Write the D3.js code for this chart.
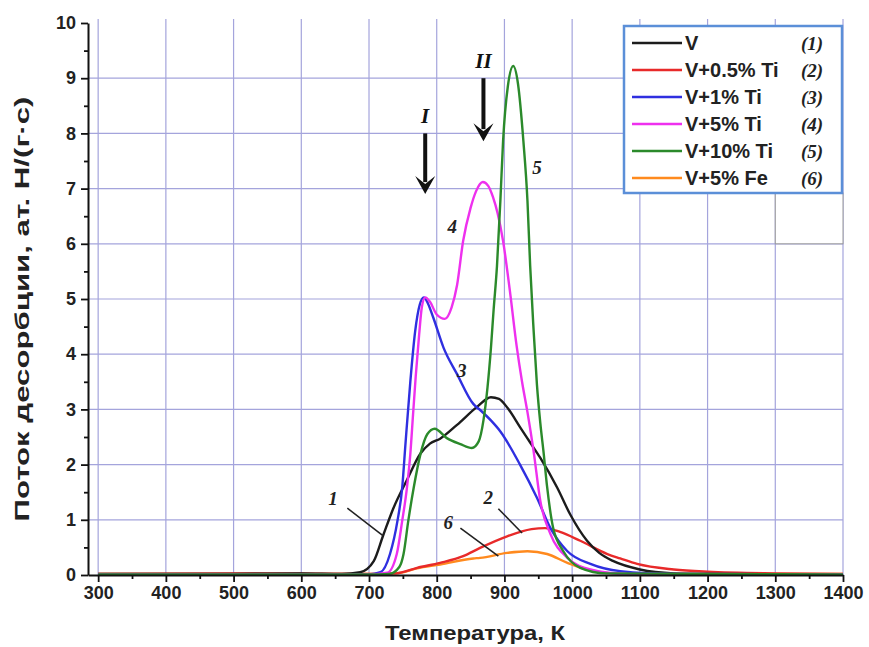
<!DOCTYPE html>
<html>
<head>
<meta charset="utf-8">
<script src="https://cdn.jsdelivr.net/npm/d3@7"></script>
<style>
  body { margin: 0; background: #fff; }
  text { font-family: "Liberation Sans", Arial, sans-serif; }
</style>
</head>
<body>
<div id="chart"></div>
<script>
  // data: [temperature K, flux]
  const seriesV = [[300,0.02],[400,0.02],[500,0.02],[600,0.03],[660,0.02],[687,0.05],[707,0.25],[721,0.72],[736,1.21],[756,1.72],[776,2.2],[790,2.38],[805,2.47],[830,2.72],[860,3.05],[880,3.22],[892,3.19],[905,3.02],[923,2.68],[938,2.4],[953,2.12],[978,1.58],[997,1.1],[1022,0.62],[1040,0.4],[1061,0.25],[1100,0.1],[1150,0.03],[1200,0.02],[1400,0.01]];
  const seriesTi05 = [[300,0.02],[500,0.03],[700,0.02],[740,0.03],[771,0.13],[805,0.22],[839,0.34],[864,0.49],[904,0.7],[940,0.83],[960,0.85],[982,0.78],[1012,0.62],[1052,0.38],[1071,0.3],[1096,0.2],[1150,0.1],[1200,0.06],[1300,0.03],[1400,0.02]];
  const seriesTi1 = [[300,0.01],[700,0.01],[717,0.05],[731,0.38],[742,0.98],[749,1.58],[754,2.4],[761,3.5],[768,4.4],[775,4.9],[781,5.03],[787,4.92],[795,4.66],[810,4.12],[830,3.64],[854,3.1],[865,2.98],[880,2.8],[894,2.6],[923,2.0],[948,1.4],[968,0.85],[993,0.43],[1027,0.2],[1071,0.07],[1150,0.02],[1400,0.01]];
  const seriesTi5 = [[300,0.01],[700,0.01],[727,0.04],[741,0.38],[749,0.98],[756,1.58],[761,2.19],[765,2.9],[769,3.6],[774,4.35],[778,4.85],[783,5.03],[790,4.95],[800,4.72],[812,4.64],[822,4.85],[830,5.25],[839,6.05],[850,6.65],[858,6.95],[868,7.12],[876,7.05],[883,6.85],[890,6.55],[898,6.05],[908,5.15],[918,4.15],[926,3.5],[934,2.95],[943,2.25],[953,1.34],[968,0.74],[993,0.31],[1027,0.1],[1080,0.02],[1400,0.01]];
  const seriesTi10 = [[300,0.01],[700,0.01],[730,0.02],[745,0.15],[751,0.38],[758,0.98],[766,1.58],[776,2.19],[786,2.55],[797,2.65],[815,2.48],[835,2.37],[852,2.3],[862,2.42],[869,2.8],[875,3.4],[880,4.1],[884,4.8],[889,5.6],[894,6.78],[898,7.86],[905,8.85],[913,9.22],[920,8.9],[928,7.86],[934,6.78],[938,5.6],[943,4.45],[948,3.45],[953,2.75],[958,2.2],[963,1.6],[972,0.85],[987,0.43],[1012,0.13],[1050,0.03],[1400,0.01]];
  const seriesFe5 = [[300,0.02],[700,0.02],[740,0.03],[771,0.12],[805,0.19],[854,0.3],[864,0.31],[904,0.4],[934,0.43],[963,0.38],[993,0.22],[1031,0.07],[1080,0.02],[1400,0.02]];

  const legendNames = ["V", "V+0.5% Ti", "V+1% Ti", "V+5% Ti", "V+10% Ti", "V+5% Fe"];
  const legendNums = ["(1)", "(2)", "(3)", "(4)", "(5)", "(6)"];
  const colors = ["#1c1c1c", "#e82a2a", "#2f2fe0", "#ee30ee", "#2b8a2b", "#ff8a1e"];
  const allSeries = [seriesV, seriesTi05, seriesTi1, seriesTi5, seriesTi10, seriesFe5];

  const xTicks = [300,400,500,600,700,800,900,1000,1100,1200,1300,1400];
  const yTicks = [0,1,2,3,4,5,6,7,8,9,10];

  // peak arrows I and II, curve numbers and their leader lines
  const peakArrows = [{label:"I", t:783, from:8.0, to:6.9}, {label:"II", t:869, from:9.0, to:7.86}];
  const curveNums = [{text:"1", t:647, v:1.38}, {text:"2", t:876, v:1.4}, {text:"3", t:837, v:3.7},
                     {text:"4", t:823, v:6.3}, {text:"5", t:948, v:7.37}, {text:"6", t:817, v:0.94}];
  const leaders = [[668,1.21,721,0.71], [891,1.2,926,0.76], [835,0.85,891,0.34]];

  const W = 869, H = 647;
  const margin = {top: 23, right: 26, bottom: 72, left: 88};

  const svg = d3.select("#chart").append("svg")
      .attr("width", W)
      .attr("height", H);

  const x = d3.scaleLinear().domain([285, 1400]).range([margin.left, W - margin.right]);
  const y = d3.scaleLinear().domain([0, 10]).range([H - margin.bottom, margin.top]);

  // grid
  svg.append("g").selectAll("line").data(xTicks).join("line")
      .attr("x1", d => x(d)).attr("x2", d => x(d))
      .attr("y1", y(0)).attr("y2", y(10) - 4)
      .attr("stroke", "#a4a4dc").attr("stroke-width", 1.2);
  svg.append("g").selectAll("line").data(yTicks.filter(d => d > 0 && d < 10)).join("line")
      .attr("x1", x(285)).attr("x2", x(1400))
      .attr("y1", d => y(d)).attr("y2", d => y(d))
      .attr("stroke", "#a4a4dc").attr("stroke-width", 1.2);

  // curves
  const line = d3.line()
      .curve(d3.curveMonotoneX)
      .x(d => x(d[0]))
      .y(d => y(d[1]));

  const drawOrder = [5, 1, 0, 2, 3, 4];
  svg.append("g").selectAll("path").data(drawOrder).join("path")
      .attr("d", i => line(allSeries[i]))
      .attr("fill", "none")
      .attr("stroke", i => colors[i])
      .attr("stroke-width", 2.4);

  // axes
  svg.append("g")
      .attr("transform", `translate(0, ${y(0)})`)
      .call(d3.axisBottom(x).tickValues(xTicks).tickFormat(d3.format("d")).tickSize(7).tickPadding(4).tickSizeOuter(0));
  svg.append("g")
      .attr("transform", `translate(0, ${y(0)})`)
      .call(d3.axisBottom(x).tickValues(d3.range(350, 1400, 100)).tickSize(4).tickFormat(""))
      .select(".domain").remove();
  svg.append("g")
      .attr("transform", `translate(${margin.left}, 0)`)
      .call(d3.axisLeft(y).tickValues(yTicks).tickSize(7).tickPadding(5).tickSizeOuter(0));
  svg.append("g")
      .attr("transform", `translate(${margin.left}, 0)`)
      .call(d3.axisLeft(y).tickValues(d3.range(0.5, 10, 1)).tickSize(4).tickFormat(""))
      .select(".domain").remove();

  svg.selectAll(".domain").attr("stroke", "#111").attr("stroke-width", 2);
  svg.selectAll(".tick line").attr("stroke", "#111").attr("stroke-width", 1.8);
  svg.selectAll(".tick text")
      .attr("fill", "#222")
      .style("font-size", "18px")
      .style("font-weight", "bold");

  // axis titles
  svg.append("text")
      .attr("x", 475).attr("y", 640)
      .attr("text-anchor", "middle")
      .attr("textLength", 180).attr("lengthAdjust", "spacingAndGlyphs")
      .style("font-size", "21px").style("font-weight", "bold").attr("fill", "#222")
      .text("Температура, К");
  svg.append("text")
      .attr("transform", `translate(29, ${(y(0) + y(10)) / 2 + 10}) rotate(-90)`)
      .attr("text-anchor", "middle")
      .attr("textLength", 425).attr("lengthAdjust", "spacingAndGlyphs")
      .style("font-size", "21px").style("font-weight", "bold").attr("fill", "#222")
      .text("Поток десорбции, ат. H/(г·с)");

  // arrows
  const arr = svg.append("g").selectAll("g").data(peakArrows).join("g");
  arr.append("line")
      .attr("x1", d => x(d.t)).attr("x2", d => x(d.t))
      .attr("y1", d => y(d.from)).attr("y2", d => y(d.to) - 12)
      .attr("stroke", "#111").attr("stroke-width", 4);
  arr.append("path")
      .attr("d", d => `M${x(d.t) - 10},${y(d.to) - 18} L${x(d.t)},${y(d.to) - 10} L${x(d.t) + 10},${y(d.to) - 18} L${x(d.t)},${y(d.to)} Z`)
      .attr("fill", "#111");
  arr.append("text")
      .attr("x", d => x(d.t)).attr("y", d => y(d.from) - 10)
      .attr("text-anchor", "middle")
      .style("font-family", "'Liberation Serif', serif")
      .style("font-style", "italic").style("font-weight", "bold").style("font-size", "21px")
      .attr("fill", "#111")
      .text(d => d.label);

  // curve numbers
  svg.append("g").selectAll("line").data(leaders).join("line")
      .attr("x1", d => x(d[0])).attr("y1", d => y(d[1]))
      .attr("x2", d => x(d[2])).attr("y2", d => y(d[3]))
      .attr("stroke", "#222").attr("stroke-width", 1.6);
  svg.append("g").selectAll("text").data(curveNums).join("text")
      .attr("x", d => x(d.t)).attr("y", d => y(d.v) + 6)
      .attr("text-anchor", "middle")
      .style("font-family", "'Liberation Serif', serif")
      .style("font-style", "italic").style("font-weight", "bold").style("font-size", "19px")
      .attr("fill", "#222")
      .text(d => d.text);

  // legend
  svg.append("rect")
      .attr("x", x(1300)).attr("y", 193).attr("width", x(1400) - x(1300)).attr("height", y(6) - 193)
      .attr("fill", "#fff").attr("stroke", "#999").attr("stroke-width", 1);
  const lg = svg.append("g").attr("transform", "translate(624, 26)");
  lg.append("rect")
      .attr("width", 218).attr("height", 167)
      .attr("fill", "#fff").attr("stroke", "#5b8fd8").attr("stroke-width", 2.5);
  const rows = lg.selectAll("g").data(legendNames).join("g")
      .attr("transform", (d, i) => `translate(0, ${17 + i * 27})`);
  rows.append("line")
      .attr("x1", 8).attr("x2", 58)
      .attr("stroke", (d, i) => colors[i]).attr("stroke-width", 2.4);
  rows.append("text")
      .attr("x", 61).attr("y", 7)
      .style("font-size", "20px").style("font-weight", "bold").attr("fill", "#222")
      .text(d => d);
  rows.append("text")
      .attr("x", 188).attr("y", 7)
      .attr("text-anchor", "middle")
      .style("font-family", "'Liberation Serif', serif")
      .style("font-style", "italic").style("font-weight", "bold").style("font-size", "19px")
      .attr("fill", "#222")
      .text((d, i) => legendNums[i]);
</script>
</body>
</html>
